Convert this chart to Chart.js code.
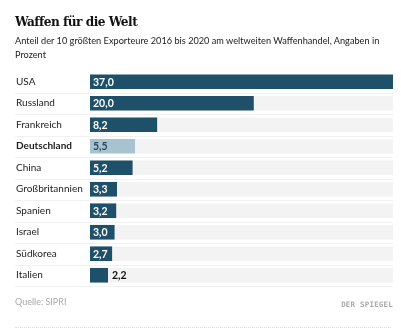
<!DOCTYPE html>
<html lang="de">
<head>
<meta charset="utf-8">
<script src="https://cdn.jsdelivr.net/npm/chart.js@4"></script>
<style>
  html, body { margin: 0; padding: 0; background: #fff; }
  #wrap { position: relative; width: 401px; height: 331px; overflow: hidden; font-family: "Lato", sans-serif; }
  #titel { position: absolute; left: 15px; top: 13px; font: bold 13.5px "DejaVu Serif Condensed", serif; color: #111; letter-spacing: -0.5px; }
  #untertitel { position: absolute; left: 15px; top: 34px; width: 390px; font-size: 9.2px; line-height: 14px; color: #222; white-space: nowrap; }
  #quelle { position: absolute; left: 15px; top: 296px; font-size: 9px; color: #aaa; }
  #logo { position: absolute; right: 8px; top: 300px; font: bold 7.5px "DejaVu Sans Mono", monospace; color: #aaa; letter-spacing: 0.2px; }
  #linie { position: absolute; left: 15px; right: 10px; top: 327px; border-top: 1px dotted #ddd; }
  canvas { position: absolute; left: 0; top: 0; }
</style>
</head>
<body>
<div id="wrap">
  <canvas id="grafik" width="401" height="331"></canvas>
  <div id="titel">Waffen für die Welt</div>
  <div id="untertitel">Anteil der 10 größten Exporteure 2016 bis 2020 am weltweiten Waffenhandel, Angaben in<br>Prozent</div>
  <div id="quelle">Quelle: SIPRI</div>
  <div id="logo">DER SPIEGEL</div>
  <div id="linie"></div>
</div>
<script>
const laender = ["USA", "Russland", "Frankreich", "Deutschland", "China", "Großbritannien", "Spanien", "Israel", "Südkorea", "Italien"];
const anteile = [37.0, 20.0, 8.2, 5.5, 5.2, 3.3, 3.2, 3.0, 2.7, 2.2];
const hervorgehoben = "Deutschland";

const dunkel = "#1e5069";
const hell = "#a7c3d1";

const fmt = v => v.toFixed(1).replace(".", ",");

// graue Hintergrundbalken + feine Trennlinien
const hintergrund = {
  id: "hintergrund",
  beforeDatasetsDraw(chart) {
    const { ctx, chartArea, scales } = chart;
    const meta = chart.getDatasetMeta(0);
    const schritt = scales.y.getPixelForValue(1) - scales.y.getPixelForValue(0);
    ctx.save();
    meta.data.forEach((bar, i) => {
      const h = bar.height;
      ctx.fillStyle = "#f3f3f3";
      ctx.fillRect(chartArea.left, bar.y - h / 2, chartArea.right - chartArea.left, h);
      ctx.fillStyle = "#f1f1f1";
      ctx.fillRect(15, Math.round(bar.y + schritt / 2), chartArea.right - 15, 1);
    });
    ctx.restore();
  }
};

// Werte in bzw. neben den Balken
const werte = {
  id: "werte",
  afterDatasetsDraw(chart) {
    const { ctx } = chart;
    const meta = chart.getDatasetMeta(0);
    ctx.save();
    ctx.font = "bold 10.5px Lato, sans-serif";
    ctx.textBaseline = "middle";
    meta.data.forEach((bar, i) => {
      const text = fmt(anteile[i]);
      const w = ctx.measureText(text).width;
      const breite = bar.x - bar.base;
      if (w + 5 <= breite) {
        ctx.fillStyle = laender[i] === hervorgehoben ? "#2c4a5a" : "#fff";
        ctx.fillText(text, bar.base + 3, bar.y + 0.5);
      } else {
        ctx.fillStyle = "#111";
        ctx.fillText(text, bar.x + 4, bar.y + 0.5);
      }
    });
    ctx.restore();
  }
};

new Chart(document.getElementById("grafik"), {
  type: "bar",
  data: {
    labels: laender,
    datasets: [{
      data: anteile,
      backgroundColor: laender.map(l => l === hervorgehoben ? hell : dunkel),
      borderWidth: 0,
      categoryPercentage: 0.68,
      barPercentage: 1
    }]
  },
  options: {
    indexAxis: "y",
    responsive: false,
    animation: false,
    layout: { padding: { top: 71, bottom: 45, left: 16, right: 8 } },
    plugins: {
      legend: { display: false },
      tooltip: { enabled: false }
    },
    scales: {
      x: { display: false, min: 0, max: 37 },
      y: {
        grid: { display: false },
        border: { display: false },
        afterFit: s => { s.width = 74; },
        ticks: {
          crossAlign: "far",
          color: "#222",
          font: ctx => ({
            family: "Lato, sans-serif",
            size: 10,
            weight: laender[ctx.index] === hervorgehoben ? "bold" : "normal"
          })
        }
      }
    }
  },
  plugins: [hintergrund, werte]
});
</script>
</body>
</html>
